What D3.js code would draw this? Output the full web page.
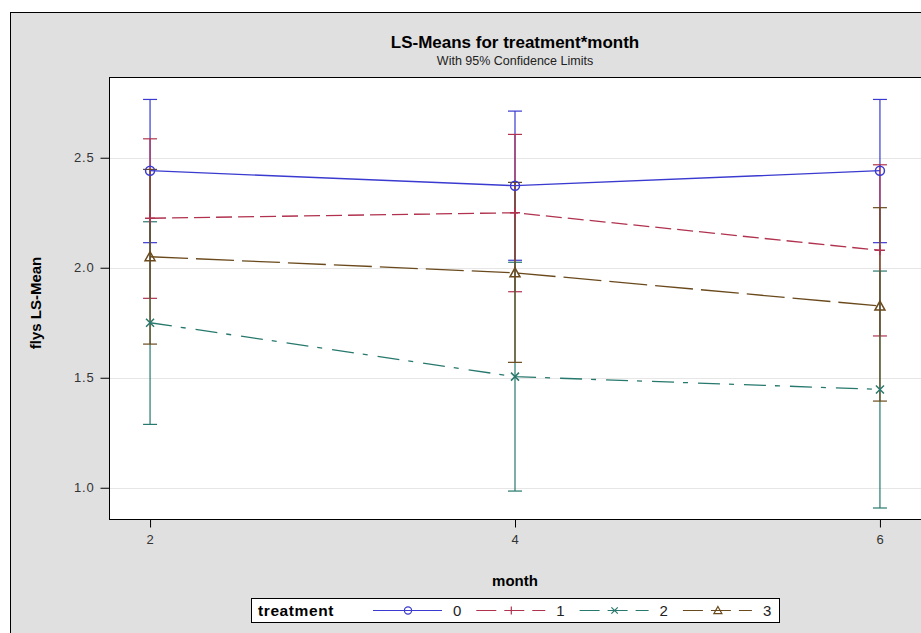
<!DOCTYPE html>
<html>
<head>
<meta charset="utf-8">
<script src="https://cdnjs.cloudflare.com/ajax/libs/d3/7.8.5/d3.min.js"></script>
<style>
  body { margin: 0; background: #fff; }
  svg { display: block; font-family: "Liberation Sans", Arial, sans-serif; }
</style>
</head>
<body>
<svg width="921" height="633"></svg>
<script>
// LS-means with 95% confidence limits
const months = [2, 4, 6];
const treatments = ['0', '1', '2', '3'];
const means0 = [2.441, 2.373, 2.441];
const lower0 = [2.114, 2.034, 2.114];
const upper0 = [2.765, 2.712, 2.765];
const means1 = [2.225, 2.250, 2.079];
const lower1 = [1.861, 1.891, 1.690];
const upper1 = [2.586, 2.606, 2.468];
const means2 = [1.750, 1.505, 1.447];
const lower2 = [1.288, 0.985, 0.908];
const upper2 = [2.209, 2.025, 1.985];
const means3 = [2.050, 1.977, 1.826];
const lower3 = [1.653, 1.570, 1.394];
const upper3 = [2.447, 2.388, 2.273];
const yTicks = [1.0, 1.5, 2.0, 2.5];

const series = [
  {name: treatments[0], mean: means0, lo: lower0, hi: upper0, color: '#3a3ad0', dash: null, marker: 'circle'},
  {name: treatments[1], mean: means1, lo: lower1, hi: upper1, color: '#b0324e', dash: '16,6', marker: 'plus'},
  {name: treatments[2], mean: means2, lo: lower2, hi: upper2, color: '#27786d', dash: '22,9,5,10', marker: 'x'},
  {name: treatments[3], mean: means3, lo: lower3, hi: upper3, color: '#6a4a1c', dash: '38,8', marker: 'triangle'}
];

const svg = d3.select('svg');
const margin = {left: 109, top: 77, right: 921, bottom: 519};

// outer frame
svg.append('rect')
  .attr('x', 10.5).attr('y', 12.5)
  .attr('width', 1000).attr('height', 700)
  .attr('fill', '#e0e0e0').attr('stroke', '#000');

const x = d3.scaleLinear().domain([1.775, 6.225]).range([margin.left, margin.right]);
const y = d3.scaleLinear().domain([0.858, 2.867]).range([margin.bottom, margin.top]);

// plot area
svg.append('rect')
  .attr('x', margin.left + 0.5).attr('y', margin.top + 0.5)
  .attr('width', margin.right - margin.left + 10).attr('height', margin.bottom - margin.top)
  .attr('fill', '#fff');

// grid
svg.append('g')
  .selectAll('line')
  .data(yTicks)
  .enter()
  .append('line')
  .attr('x1', margin.left).attr('x2', margin.right)
  .attr('y1', d => Math.round(y(d)) + 0.5).attr('y2', d => Math.round(y(d)) + 0.5)
  .attr('stroke', '#e6e6e6');

svg.append('rect')
  .attr('x', margin.left + 0.5).attr('y', margin.top + 0.5)
  .attr('width', margin.right - margin.left + 10).attr('height', margin.bottom - margin.top)
  .attr('fill', 'none').attr('stroke', '#000');

// axes
const yAxis = svg.append('g')
  .attr('transform', `translate(${margin.left + 0.5},0)`)
  .call(d3.axisLeft(y).tickValues(yTicks).tickFormat(d3.format('.1f')).tickSize(9).tickPadding(6));
const xAxis = svg.append('g')
  .attr('transform', `translate(0,${margin.bottom + 0.5})`)
  .call(d3.axisBottom(x).tickValues(months).tickFormat(d3.format('d')).tickSize(8).tickPadding(7));
[yAxis, xAxis].forEach(a => {
  a.select('.domain').remove();
  a.selectAll('text').attr('font-size', 13).attr('fill', '#333')
    .attr('letter-spacing', 0.8).attr('font-family', '"Liberation Sans", Arial, sans-serif');
  a.selectAll('line').attr('stroke', '#000');
});

// titles
svg.append('text').attr('x', 515).attr('y', 48).attr('text-anchor', 'middle')
  .attr('font-size', 17).attr('font-weight', 'bold').text('LS-Means for treatment*month');
svg.append('text').attr('x', 515).attr('y', 65).attr('text-anchor', 'middle')
  .attr('font-size', 12.5).attr('fill', '#222').text('With 95% Confidence Limits');
svg.append('text').attr('x', 515).attr('y', 586).attr('text-anchor', 'middle')
  .attr('font-size', 15).attr('font-weight', 'bold').text('month');
svg.append('text').attr('transform', `translate(41,${(margin.top + margin.bottom) / 2 + 5}) rotate(-90)`)
  .attr('text-anchor', 'middle').attr('font-size', 15).attr('font-weight', 'bold').text('flys LS-Mean');

function drawMarker(g, type, color) {
  if (type === 'circle') {
    g.append('circle').attr('r', 4.5).attr('fill', 'none').attr('stroke', color).attr('stroke-width', 1.5);
  } else if (type === 'plus') {
    g.append('path').attr('d', 'M-5,0H5M0,-5V5').attr('stroke', color).attr('stroke-width', 1.5);
  } else if (type === 'x') {
    g.append('path').attr('d', 'M-4,-4L4,4M-4,4L4,-4').attr('stroke', color).attr('stroke-width', 1.5);
  } else {
    g.append('path').attr('d', 'M0,-5L5,4H-5Z').attr('fill', 'none').attr('stroke', color).attr('stroke-width', 1.5);
  }
}

// error bars
series.forEach(s => {
  const g = svg.append('g').attr('stroke', s.color).attr('stroke-width', 1.2);
  months.forEach((m, i) => {
    const cx = x(m);
    g.append('line').attr('x1', cx).attr('x2', cx).attr('y1', y(s.lo[i])).attr('y2', y(s.hi[i]));
    [s.lo[i], s.hi[i]].forEach(v => {
      g.append('line').attr('x1', cx - 7).attr('x2', cx + 7).attr('y1', y(v)).attr('y2', y(v));
    });
  });
});

// mean lines and markers
const line = d3.line().x((d, i) => x(months[i])).y(d => y(d));
series.forEach(s => {
  svg.append('path')
    .datum(s.mean)
    .attr('d', line)
    .attr('fill', 'none')
    .attr('stroke', s.color)
    .attr('stroke-width', 1.3)
    .attr('stroke-dasharray', s.dash);
  s.mean.forEach((v, i) => {
    drawMarker(svg.append('g').attr('transform', `translate(${x(months[i])},${y(v)})`), s.marker, s.color);
  });
});

// legend
const leg = svg.append('g');
leg.append('rect').attr('x', 251.5).attr('y', 598.5).attr('width', 528).attr('height', 24)
  .attr('fill', '#fff').attr('stroke', '#000');
leg.append('text').attr('x', 258).attr('y', 616).attr('font-size', 15.5).attr('font-weight', 'bold')
  .attr('letter-spacing', 0.6).text('treatment');
series.forEach((s, i) => {
  const x0 = 373 + i * 103.3;
  leg.append('line').attr('x1', x0).attr('x2', x0 + 69).attr('y1', 610.5).attr('y2', 610.5)
    .attr('stroke', s.color).attr('stroke-width', 1.2)
    .attr('stroke-dasharray', s.dash ? '20,8' : null);
  const mg = leg.append('g').attr('transform', `translate(${x0 + 35},610.5) scale(0.8)`);
  drawMarker(mg, s.marker, s.color);
  leg.append('text').attr('x', x0 + 80).attr('y', 616).attr('font-size', 15).attr('fill', '#222').text(s.name);
});
</script>
</body>
</html>
